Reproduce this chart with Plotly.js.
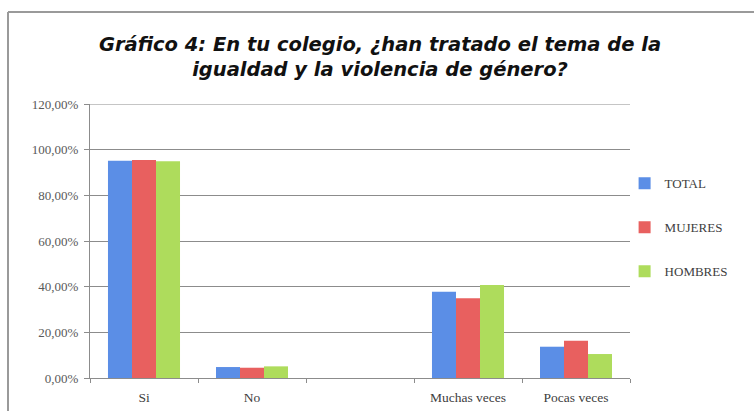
<!DOCTYPE html>
<html>
<head>
<meta charset="utf-8">
<script src="https://cdn.plot.ly/plotly-3.0.1.min.js"></script>
<style>
html,body{margin:0;padding:0;background:#fff;}
#chart{width:754px;height:411px;}
</style>
</head>
<body>
<div id="chart"></div>
<script>
// Data
var categories = ["Si", "No", " ", "Muchas veces", "Pocas veces"];
var total   = [0.952, 0.048, null, 0.378, 0.137];
var mujeres = [0.955, 0.045, null, 0.349, 0.163];
var hombres = [0.949, 0.051, null, 0.407, 0.105];
var seriesNames = ["TOTAL", "MUJERES", "HOMBRES"];
var seriesColors = ["#5b8ee6", "#e8605f", "#aedc5c"];
var titleText = "<b><i>Gráfico 4: En tu colegio, ¿han tratado el tema de la<br>igualdad y la violencia de género?</i></b>";
var yMax = 1.2;

var serif = "Liberation Serif, DejaVu Serif, serif";
var values = [total, mujeres, hombres];
var traces = values.map(function (v, i) {
  return {
    type: "bar",
    name: seriesNames[i],
    x: categories,
    y: v,
    marker: {color: seriesColors[i], line: {width: 0}},
    legendgroup: "g" + i,
    hoverinfo: "x+y+name"
  };
});

var layout = {
  width: 754,
  height: 411,
  margin: {l: 90, r: 124, t: 104, b: 33, autoexpand: false},
  paper_bgcolor: "#ffffff",
  plot_bgcolor: "#ffffff",
  separators: ",.",
  barmode: "group",
  bargap: 0.333,
  bargroupgap: 0,
  title: {
    text: titleText,
    font: {family: "DejaVu Sans, Verdana, sans-serif", size: 19.5, color: "#111111"},
    xref: "container",
    x: 380 / 754,
    xanchor: "center",
    yref: "container",
    y: 1 - 51 / 411,
    yanchor: "top"
  },
  xaxis: {
    type: "category",
    showgrid: false,
    showline: true,
    linecolor: "#8c8c8c",
    linewidth: 1,
    ticks: "outside",
    tickson: "boundaries",
    ticklen: 4,
    tickcolor: "#8c8c8c",
    ticklabelstandoff: 7,
    tickfont: {family: serif, size: 13.5, color: "#404040"},
    fixedrange: true
  },
  yaxis: {
    range: [0, yMax],
    dtick: 0.2,
    tick0: 0,
    tickformat: ".2%",
    showgrid: true,
    gridcolor: "#8c8c8c",
    gridwidth: 1,
    showline: true,
    linecolor: "#8c8c8c",
    linewidth: 1,
    ticks: "outside",
    ticklen: 5,
    tickcolor: "#8c8c8c",
    ticklabelstandoff: 3,
    tickfont: {family: serif, size: 13, color: "#595959"},
    zeroline: false,
    fixedrange: true
  },
  legend: {
    x: 0.99,
    xanchor: "left",
    y: 0.765,
    yanchor: "top",
    traceorder: "grouped",
    tracegroupgap: 24,
    itemwidth: 30,
    font: {family: serif, size: 13, color: "#404040"},
    bgcolor: "rgba(0,0,0,0)"
  },
  shapes: [
    {type: "line", xref: "paper", yref: "y", x0: 0, x1: 1, y0: yMax, y1: yMax,
     line: {color: "#8c8c8c", width: 1}},
    {type: "line", xref: "paper", yref: "paper", x0: -82 / 540, x1: -82 / 540, y0: 366 / 274, y1: -40 / 274,
     line: {color: "#9a9a9a", width: 2}},
    {type: "line", xref: "paper", yref: "paper", x0: -82 / 540, x1: 130 / 540 + 1, y0: 366 / 274, y1: 366 / 274,
     line: {color: "#9a9a9a", width: 2}}
  ]
};

Plotly.newPlot("chart", traces, layout, {displayModeBar: false});
</script>
</body>
</html>
